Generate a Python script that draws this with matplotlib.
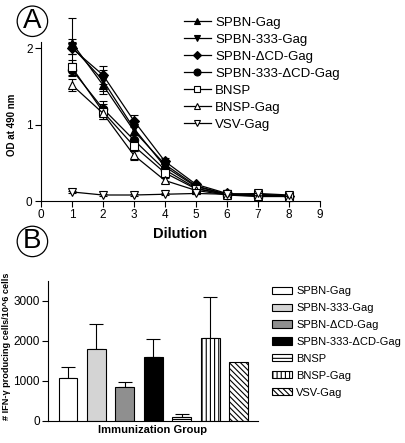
import numpy as np
import matplotlib.pyplot as plt
from matplotlib.lines import Line2D
from matplotlib.patches import Patch

plt.rcParams['font.family'] = ['Liberation Sans', 'DejaVu Sans']
plt.rcParams['hatch.linewidth'] = 0.8

# panel A - ELISA
dilution = [1, 2, 3, 4, 5, 6, 7, 8]
names = ['SPBN-Gag', 'SPBN-333-Gag', 'SPBN-\u0394CD-Gag', 'SPBN-333-\u0394CD-Gag',
         'BNSP', 'BNSP-Gag', 'VSV-Gag']
od_spbn = [2.07, 1.52, 0.92, 0.48, 0.20, 0.09, 0.07, 0.07]
od_333 = [2.02, 1.58, 0.95, 0.45, 0.19, 0.09, 0.08, 0.07]
od_dcd = [2.00, 1.65, 1.05, 0.52, 0.22, 0.10, 0.08, 0.07]
od_333dcd = [1.72, 1.21, 0.80, 0.41, 0.17, 0.08, 0.06, 0.06]
od_bnsp = [1.75, 1.17, 0.72, 0.37, 0.16, 0.09, 0.09, 0.07]
od_bnspgag = [1.52, 1.15, 0.60, 0.27, 0.14, 0.08, 0.07, 0.06]
od_vsv = [0.12, 0.08, 0.08, 0.09, 0.10, 0.09, 0.10, 0.08]
err_spbn = [0.33, 0.12, 0.06, 0.04, 0.02, 0.01, 0.01, 0.01]
err_333 = [0.10, 0.14, 0.08, 0.04, 0.02, 0.01, 0.01, 0.01]
err_dcd = [0.08, 0.12, 0.08, 0.04, 0.02, 0.01, 0.01, 0.01]
err_333dcd = [0.08, 0.10, 0.07, 0.04, 0.02, 0.01, 0.01, 0.01]
err_bnsp = [0.10, 0.10, 0.07, 0.04, 0.02, 0.02, 0.02, 0.01]
err_bnspgag = [0.08, 0.08, 0.06, 0.03, 0.02, 0.01, 0.01, 0.01]
err_vsv = [0.01, 0.01, 0.01, 0.01, 0.01, 0.01, 0.01, 0.01]

# panel B - ELISPOT
groups = names
spots = [1070, 1790, 855, 1600, 110, 2080, 1475]
spots_err = [280, 640, 125, 455, 55, 1010, 0]

od_all = [od_spbn, od_333, od_dcd, od_333dcd, od_bnsp, od_bnspgag, od_vsv]
err_all = [err_spbn, err_333, err_dcd, err_333dcd, err_bnsp, err_bnspgag, err_vsv]
markers = ['^', 'v', 'D', 'o', 's', '^', 'v']
mfc = ['black', 'black', 'black', 'black', 'white', 'white', 'white']
msize = [6, 6, 5, 6, 6, 6, 6]

fig = plt.figure(figsize=(4.05, 4.43), dpi=100)

ax1 = fig.add_axes([0.101, 0.546, 0.689, 0.359])
handles = []
for i in range(len(names)):
    ax1.errorbar(dilution, od_all[i], yerr=err_all[i], color='black', lw=0.9,
                 marker=markers[i], mfc=mfc[i], mec='black', ms=msize[i], mew=0.8,
                 capsize=3, elinewidth=0.8, capthick=0.8, clip_on=False, zorder=3)
    handles.append(Line2D([], [], color='black', lw=0.9, marker=markers[i],
                          mfc=mfc[i], mec='black', ms=msize[i] - 1, mew=0.8))
ax1.set_xlim(0, 9)
ax1.set_ylim(0, 2.08)
ax1.set_xticks(range(10))
ax1.set_yticks([0, 1, 2])
ax1.spines['top'].set_visible(False)
ax1.spines['right'].set_visible(False)
ax1.tick_params(labelsize=8.5, length=4, width=0.8, pad=2)
ax1.set_xlabel('Dilution', fontsize=10.5, fontweight='bold', labelpad=4)
ax1.set_ylabel('OD at 490 nm', fontsize=7, fontweight='bold')
ax1.yaxis.set_label_coords(-0.086, 0.48)
fig.legend(handles, names, loc='upper left', bbox_to_anchor=(0.455, 0.963),
           frameon=False, fontsize=9.5, handlelength=2.0, handletextpad=0.35,
           labelspacing=0.36, borderpad=0, borderaxespad=0)

# panel B bars
ax2 = fig.add_axes([0.1185, 0.0497, 0.5185, 0.316])
x = np.arange(1, len(groups) + 1)
colors = ['white', '#d4d4d4', '#8f8f8f', 'black', 'white', 'white', 'white']
hatches = [None, None, None, None, '---', '||||', '\\\\\\\\\\\\']
bars = ax2.bar(x, spots, width=0.66, color=colors, edgecolor='black', lw=0.8,
               hatch=hatches, zorder=2)
for i in range(len(x)):
    if spots_err[i] > 0:
        ax2.errorbar(x[i], spots[i], yerr=[[0], [spots_err[i]]], color='black',
                     lw=0.8, capsize=5, capthick=0.8, zorder=1)
ax2.set_xlim(0.3, 7.68)
ax2.set_ylim(0, 3500)
ax2.set_xticks([])
ax2.set_yticks([0, 1000, 2000, 3000])
ax2.spines['top'].set_visible(False)
ax2.spines['right'].set_visible(False)
ax2.tick_params(labelsize=8.5, length=4, width=0.8, pad=2)
ax2.set_xlabel('Immunization Group', fontsize=8, fontweight='bold', labelpad=3)
ax2.set_ylabel('# IFN-\u03b3 producing cells/10^6 cells', fontsize=6.6,
               fontweight='bold')
ax2.yaxis.set_label_coords(-0.175, 0.53)
patches = [Patch(facecolor=colors[i], edgecolor='black', lw=0.8, hatch=hatches[i])
           for i in range(len(groups))]
fig.legend(patches, groups, loc='upper left', bbox_to_anchor=(0.672, 0.354),
           frameon=False, fontsize=8, handlelength=1.8, handleheight=0.62,
           handletextpad=0.35, labelspacing=0.62, borderpad=0, borderaxespad=0)

# circled panel letters
for lab, yy in [('A', 0.952), ('B', 0.455)]:
    fig.text(0.08, yy, lab, fontsize=20, ha='center', va='center',
             bbox=dict(boxstyle='circle,pad=0.08', fc='white', ec='black', lw=0.9))

fig.savefig('out.png', dpi=100)
